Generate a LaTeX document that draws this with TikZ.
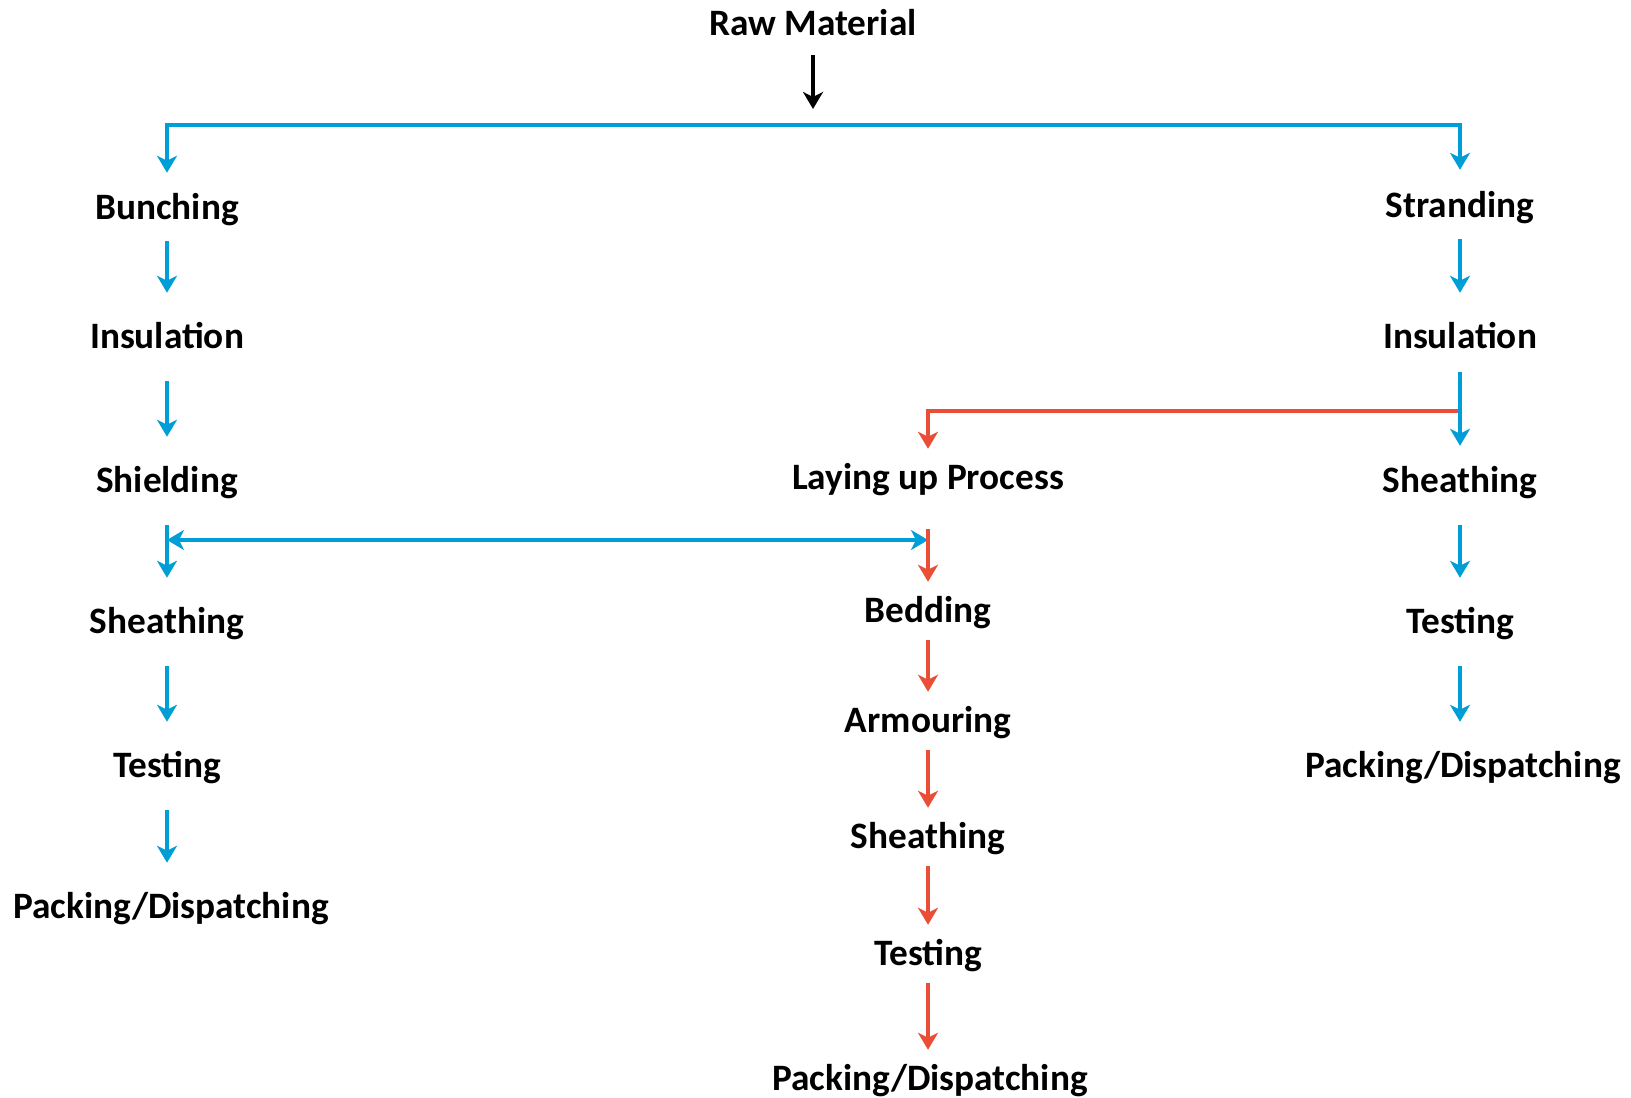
\documentclass[tikz,border=0pt]{standalone}
\usepackage{fontspec}
\setmainfont{Carlito}
\usetikzlibrary{arrows.meta, positioning}
\definecolor{flowblue}{RGB}{0,158,214}
\definecolor{flowred}{RGB}{234,78,54}

\begin{document}
\begin{tikzpicture}[x=0.01cm, y=-0.01cm, >={Stealth[length=0.17cm,width=0.2cm,inset=0.05cm]},
    font=\bfseries\fontsize{10.6}{12}\selectfont]
  \tikzset{
    stage/.style={
      inner sep=0pt,
      text height=0.3cm,
      text depth=0.05cm},
    side/.style={
      ->, draw=flowblue, line width=0.04cm,
      shorten <=0.27cm, shorten >=0.25cm},
    mid/.style={
      ->, draw=flowred, line width=0.04cm,
      shorten <=0.12cm, shorten >=0.1cm}}

  \useasboundingbox (0,0) rectangle (1631,1098);

  \node[stage] (raw) at (813,23) {Raw Material};

  \node[stage] (bunch) at (167,207) {Bunching};
  \node[stage] (ins1) at (167,336) {Insulation};
  \node[stage] (shd1) at (167,480) {Shielding};
  \node[stage] (sh1) at (167,621) {Sheathing};
  \node[stage] (tst1) at (167,765) {Testing};
  \node[stage] (pack1) at (171,906) {Packing/Dispatching};

  \node[stage] (strand) at (1460,205) {Stranding};
  \node[stage] (ins2) at (1460,336) {Insulation};
  \node[stage] (sh2) at (1460,480) {Sheathing};
  \node[stage] (tst2) at (1460,621) {Testing};
  \node[stage] (pack2) at (1463,765) {Packing/Dispatching};

  \node[stage] (lay) at (928,477) {Laying up Process};
  \node[stage] (bed) at (928,610) {Bedding};
  \node[stage] (arm) at (928,720) {Armouring};
  \node[stage] (sh3) at (928,836) {Sheathing};
  \node[stage] (tst3) at (928,953) {Testing};
  \node[stage] (pack3) at (930,1078) {Packing/Dispatching};

  \coordinate (bus) at (813,125);
  \coordinate (split) at (1460,411);
  \coordinate (meet) at (928,540);

  % raw material split into both lines
  \draw[->, line width=0.04cm, shorten <=0.135cm, shorten >=0.16cm] (raw) -- (bus);
  \draw[side, shorten <=0pt, shorten >=0.16cm] (bus) -| (bunch);
  \draw[side, shorten <=0pt, shorten >=0.17cm] (bus) -| (strand);

  % left line
  \draw[side, shorten <=0.16cm] (bunch) -- (ins1);
  \draw[side] (ins1) -- (shd1);
  \draw[side] (shd1) -- (sh1);
  \draw[side] (sh1) -- (tst1);
  \draw[side] (tst1) -- (tst1 |- pack1.north);

  % right line
  \draw[mid, shorten <=0pt] (split) -| (lay);
  \draw[side, shorten <=0.16cm] (strand) -- (ins2);
  \draw[side, shorten <=0.18cm, shorten >=0.16cm] (ins2) -- (sh2);
  \draw[side] (sh2) -- (tst2);
  \draw[side] (tst2) -- (tst2 |- pack2.north);

  % middle line
  \draw[side, <->, shorten <=0pt, shorten >=0pt] (shd1 |- meet) -- (meet);
  \draw[mid, shorten <=0.34cm] (lay) -- (bed);
  \draw[mid] (bed) -- (arm);
  \draw[mid] (arm) -- (sh3);
  \draw[mid] (sh3) -- (tst3);
  \draw[mid] (tst3) -- (tst3 |- pack3.north);

\end{tikzpicture}
\end{document}
